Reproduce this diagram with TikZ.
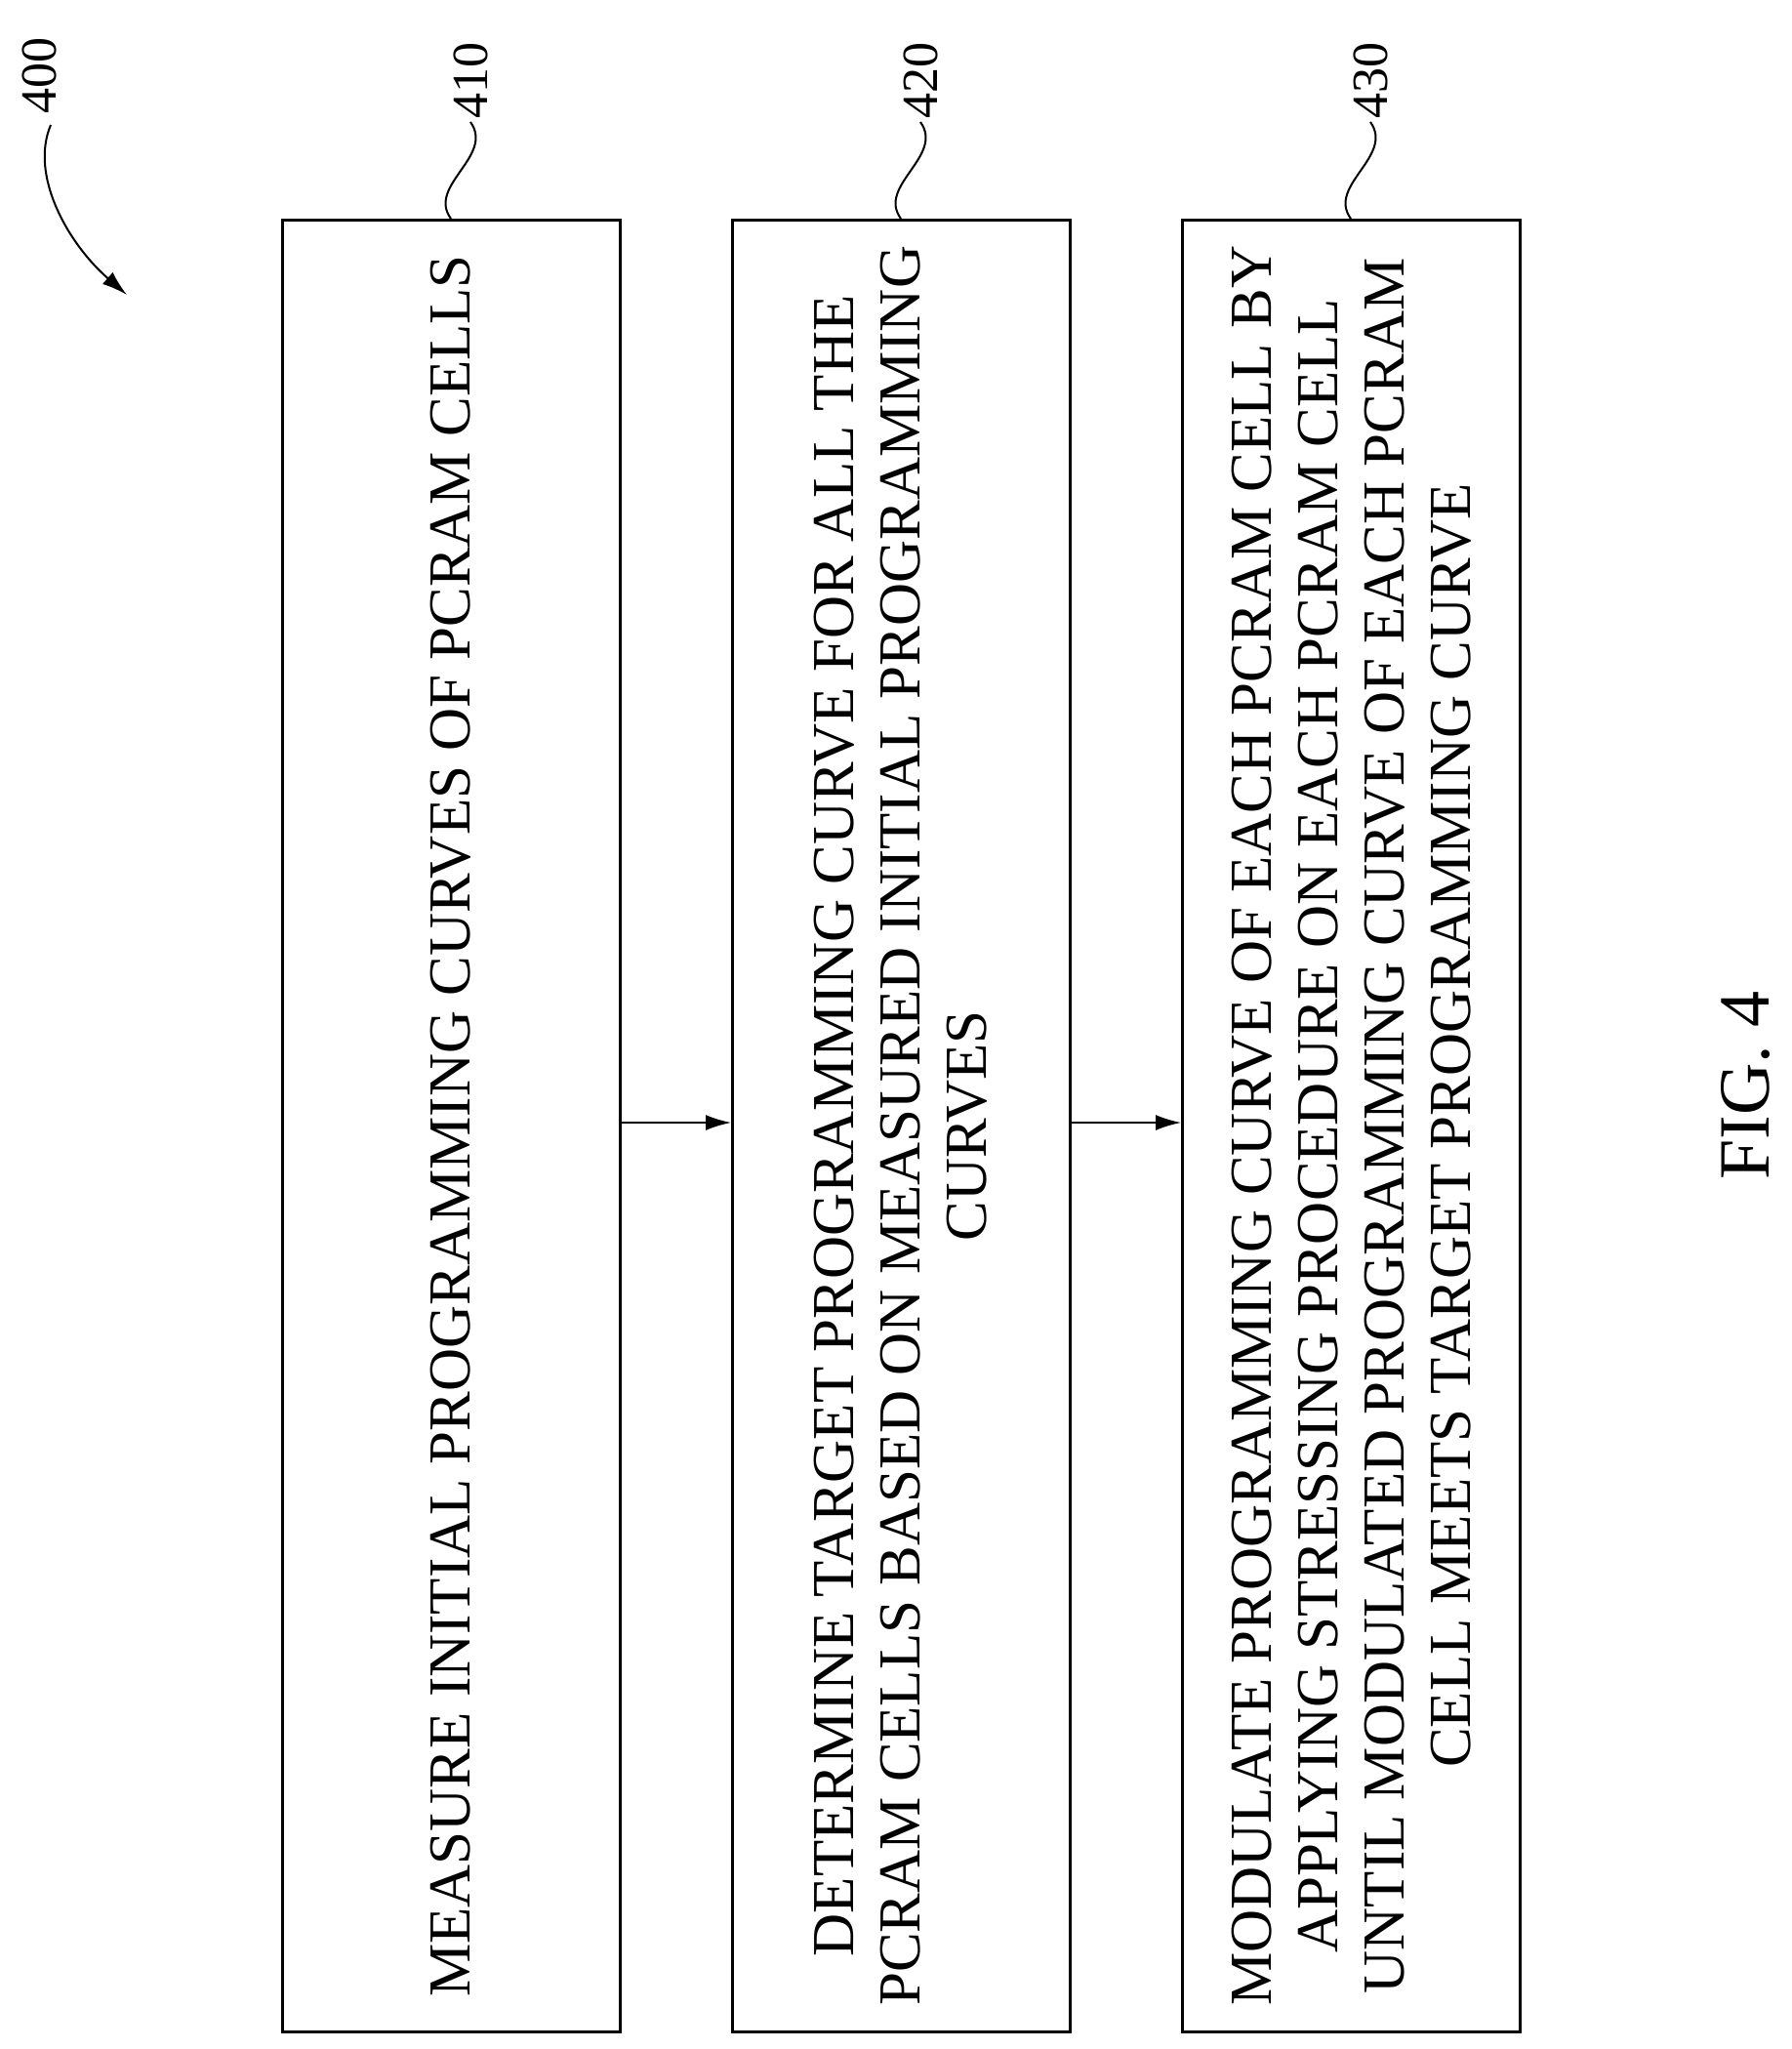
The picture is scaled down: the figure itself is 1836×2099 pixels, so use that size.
\documentclass[tikz,border=0pt]{standalone}
\usepackage{fontspec}
\setmainfont{Liberation Serif}
\usetikzlibrary{arrows.meta}
\begin{document}
\begin{tikzpicture}[x=1pt,y=-1pt,
  stepbox/.style={draw,line width=2.5pt,minimum width=346pt,minimum height=1856pt,anchor=north west},
  steptext/.style={rotate=90,align=center,font=\fontsize{61}{68}\selectfont},
  reflabel/.style={rotate=90,font=\fontsize{52}{60}\selectfont},
  conn/.style={line width=2pt,-{Latex[length=26pt,width=16pt]}},
  lead/.style={line width=2pt}]
\useasboundingbox (0,0) rectangle (1836,2099);
\node[stepbox] (b1) at (288,224) {};
\node[stepbox] (b2) at (749,224) {};
\node[stepbox] (b3) at (1210,224) {};
\node[steptext] (t1) at (b1.center) {MEASURE INITIAL PROGRAMMING CURVES OF PCRAM CELLS};
\node[steptext] (t2) at (b2.center) {DETERMINE TARGET PROGRAMMING CURVE FOR ALL THE\\PCRAM CELLS BASED ON MEASURED INITIAL PROGRAMMING\\CURVES};
\node[steptext] (t3) at (b3.center) {MODULATE PROGRAMMING CURVE OF EACH PCRAM CELL BY\\APPLYING STRESSING PROCEDURE ON EACH PCRAM CELL\\UNTIL MODULATED PROGRAMMING CURVE OF EACH PCRAM\\CELL MEETS TARGET PROGRAMMING CURVE};
\coordinate (a1) at (634,1150); \coordinate (a2) at (749,1150);
\coordinate (a3) at (1095,1150); \coordinate (a4) at (1210,1150);
\draw[conn] (a1) -- (a2);
\draw[conn] (a3) -- (a4);
\foreach \n/\x in {410/462,420/923,430/1384}{
  \node[reflabel,anchor=west] (l\n) at (\x+20,125) {\n};
  \draw[lead] (\x,224) .. controls (\x-25,190) and (\x+45,160) .. (\x+20,125);
}
\node[reflabel,anchor=west] (l400) at (40,120) {400};
\coordinate (c400) at (130,302);
\draw[line width=2pt,-{Latex[length=26pt,width=16pt]}] (52,128) .. controls (30,180) and (70,250) .. (c400);
\node[rotate=90,font=\fontsize{74}{80}\selectfont] (fig) at (1789,1112) {FIG. 4};
\end{tikzpicture}
\end{document}
